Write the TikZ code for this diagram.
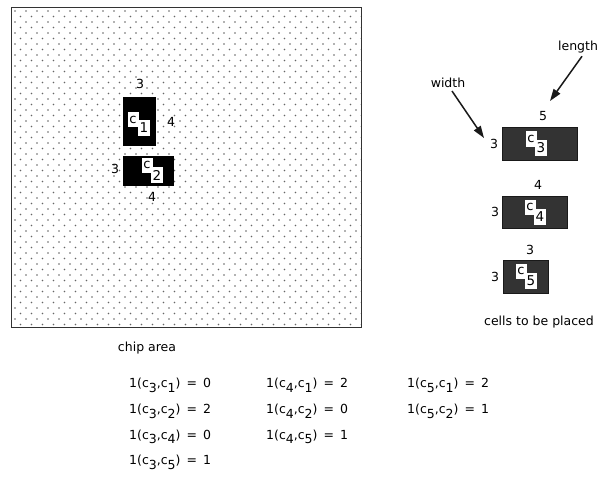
\documentclass[tikz,border=0pt]{standalone}
\usepackage{fontspec}
\setmainfont{DejaVu Sans}
\usetikzlibrary{arrows.meta}
\newcommand\lsub[1]{\raisebox{-4.5pt}{#1}}
\newcommand\lfx[3]{1(c\lsub{#1},c\lsub{#2})\,\ =\ \,#3}
\begin{document}
\begin{tikzpicture}[x=1pt,y=-1pt,
  lbl/.style={font=\fontsize{12.5}{14}\selectfont, inner sep=0pt},
  fml/.style={font=\fontsize{12.5}{14}\selectfont, inner sep=0pt, anchor=mid west},
  chipbox/.style={draw=black!80, line width=1.6pt, inner sep=0pt},
  blackcell/.style={fill=black, draw=black, inner sep=0pt},
  graycell/.style={fill=black!80, draw=black!90, inner sep=0pt},
  cwhite/.style={fill=white, inner sep=0pt, minimum width=11pt, minimum height=15pt, font=\fontsize{13}{14}\selectfont},
  dwhite/.style={fill=white, inner sep=0pt, minimum width=12pt, minimum height=16pt, font=\fontsize{13.5}{14}\selectfont},
  pointer/.style={draw=black!90, line width=1.5pt, -{Triangle[length=12pt,width=8pt]}}]
\useasboundingbox (0,0) rectangle (601,481);
% chip area dots
\begin{scope}
\clip (12,8) rectangle (361,327);
\foreach \r in {0,...,58} {
  \foreach \c in {0,...,32} {
    \fill[black!60] ({15+11*\c+5.5*mod(\r,2)}, {11+5.5*\r}) circle (0.85pt);
  }
}
\end{scope}
\node[chipbox, minimum width=350pt, minimum height=320pt] (chip) at (186.5,167.5) {};
\node[lbl] (chiplbl) at (147,348) {chip area};
% placed cells
\node[blackcell, minimum width=32pt, minimum height=48pt] (c1) at (139,121) {};
\node[cwhite] (c1c) at (133,119.5) {c};
\node[dwhite] (c1n) at (144,128) {1};
\node[lbl] (c1w) at (140,84) {3};
\node[lbl] (c1h) at (171,122) {4};
\node[blackcell, minimum width=50pt, minimum height=29pt] (c2) at (148,170.5) {};
\node[cwhite] (c2c) at (147,165) {c};
\node[dwhite] (c2n) at (157,175) {2};
\node[lbl] (c2h) at (115,169) {3};
\node[lbl] (c2w) at (152,197) {4};
% cells to be placed
\node[graycell, minimum width=75pt, minimum height=33pt] (c3) at (539.5,143.5) {};
\node[cwhite] (c3c) at (531,139) {c};
\node[dwhite] (c3n) at (541,148) {3};
\node[lbl] (c3w) at (543,116) {5};
\node[lbl] (c3h) at (494,144) {3};
\node[graycell, minimum width=65pt, minimum height=32pt] (c4) at (534.5,212) {};
\node[cwhite] (c4c) at (530,207) {c};
\node[dwhite] (c4n) at (540,217) {4};
\node[lbl] (c4w) at (538,185) {4};
\node[lbl] (c4h) at (495,212) {3};
\node[graycell, minimum width=45pt, minimum height=33pt] (c5) at (525.5,276.5) {};
\node[cwhite] (c5c) at (521,271) {c};
\node[dwhite] (c5n) at (531,281) {5};
\node[lbl] (c5w) at (530,250) {3};
\node[lbl] (c5h) at (495,277) {3};
\node[lbl] (cellslbl) at (539,322) {cells to be placed};
% pointers
\node[lbl] (width) at (448,83) {width};
\node[lbl] (length) at (578,47) {length};
\coordinate (wend) at (484,138);
\coordinate (lend) at (550,101);
\draw[pointer] ([xshift=4pt,yshift=-3pt]width.south) -- (wend);
\draw[pointer] ([xshift=4pt,yshift=-3pt]length.south) -- (lend);
% formulas
\node[fml] (f31) at (129,385) {\lfx{3}{1}{0}};
\node[fml] (f32) at (129,411) {\lfx{3}{2}{2}};
\node[fml] (f34) at (129,436.5) {\lfx{3}{4}{0}};
\node[fml] (f35) at (129,462) {\lfx{3}{5}{1}};
\node[fml] (f41) at (266,385) {\lfx{4}{1}{2}};
\node[fml] (f42) at (266,411) {\lfx{4}{2}{0}};
\node[fml] (f45) at (266,436.5) {\lfx{4}{5}{1}};
\node[fml] (f51) at (407,385) {\lfx{5}{1}{2}};
\node[fml] (f52) at (407,411) {\lfx{5}{2}{1}};
\end{tikzpicture}
\end{document}
